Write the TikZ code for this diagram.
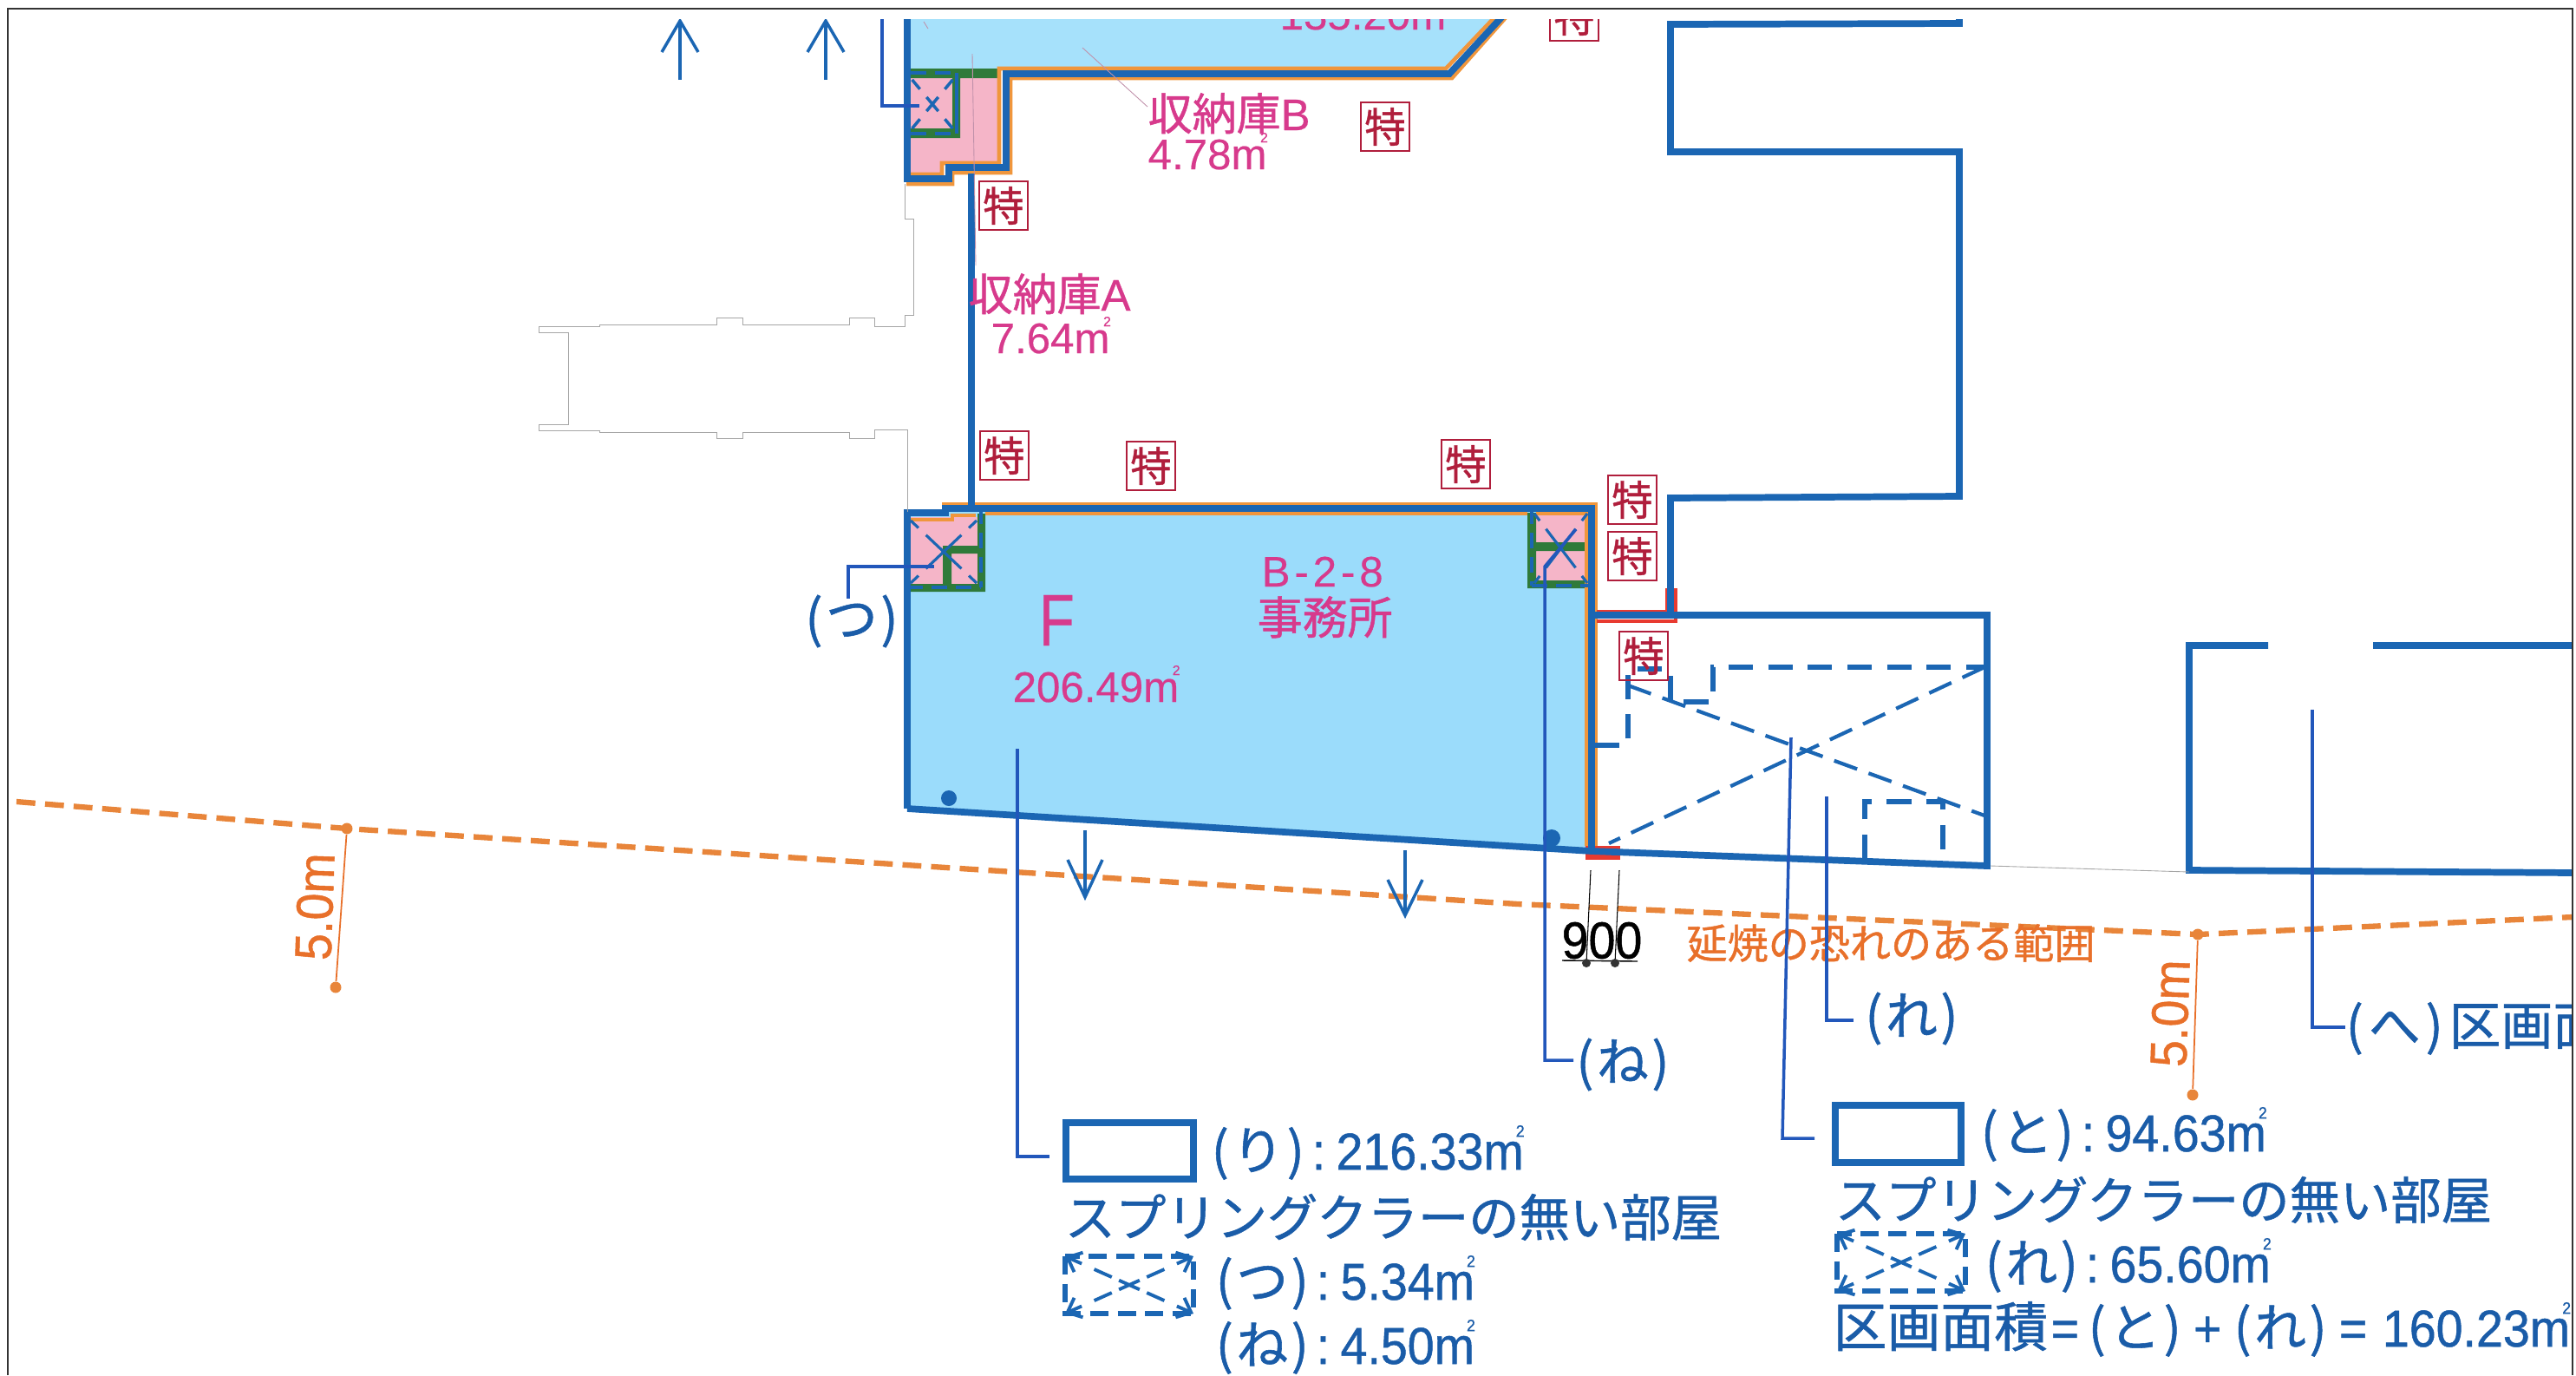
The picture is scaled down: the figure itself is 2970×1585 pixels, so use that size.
\documentclass[tikz,border=0pt]{standalone}
\usepackage{fontspec}
\setmainfont[FakeBold=0.4]{Liberation Sans}
\newfontfamily\narrowfont[FakeStretch=0.93,FakeBold=0.8]{Liberation Sans}
\newfontfamily\jpfont[FakeBold=0.9]{Noto Sans CJK JP}
\usetikzlibrary{arrows.meta}
\definecolor{wallblue}{HTML}{1B66B3}
\definecolor{textblue}{HTML}{1A5CA8}
\definecolor{leaderblue}{HTML}{2257BB}
\definecolor{roomfill}{HTML}{9BDCFB}
\definecolor{upperfill}{HTML}{A6E1FB}
\definecolor{shaftpink}{HTML}{F5B5C8}
\definecolor{shaftgreen}{HTML}{2F7A3A}
\definecolor{edgeorange}{HTML}{F0963C}
\definecolor{limitorange}{HTML}{E8853A}
\definecolor{labelorange}{HTML}{E8702A}
\definecolor{roommagenta}{HTML}{D73A8C}
\definecolor{tokured}{HTML}{B01E3C}
\definecolor{firered}{HTML}{E83A30}
\newcommand{\jp}[1]{{\jpfont #1}}
\newcommand{\kana}[1]{{\jpfont (\kern0.06em #1\kern0.06em )}}
\newcommand{\areasep}{\kern2.5pt:\kern3.5pt}
\newcommand{\sqm}{m\kern-0.15em\raisebox{0.63em}{\scalebox{0.32}{2}}}
\newcommand{\xmark}[5]{%
  \draw[#1] ({(#2+#4)/2},{(#3+#5)/2}) -- (#2,#3);
  \draw[#1] ({(#2+#4)/2},{(#3+#5)/2}) -- (#4,#3);
  \draw[#1] ({(#2+#4)/2},{(#3+#5)/2}) -- (#2,#5);
  \draw[#1] ({(#2+#4)/2},{(#3+#5)/2}) -- (#4,#5);}
\tikzset{
  wall/.style={wallblue,line width=2.2pt,line join=miter},
  edgeline/.style={edgeorange,line width=1.3pt},
  leader/.style={leaderblue,line width=1pt},
  ghostline/.style={black!35,line width=0.25pt},
  faintline/.style={roommagenta!60!black!50,line width=0.25pt},
  firestop/.style={firered,line width=1.3pt},
  flowarrow/.style={wallblue,line width=1pt},
  keydash/.style={wallblue,line width=1.6pt,dash pattern=on 6pt off 3pt},
  keycross/.style={wallblue,line width=1.1pt,-{Straight Barb[length=4pt,width=7pt]},dash pattern=on 3.7pt off 2.6pt on 6.3pt off 4.5pt on 8pt off 30pt},
  shaftcross/.style={wallblue,line width=0.9pt,dash pattern=on 8pt off 3.4pt on 4pt off 30pt},
  smallcross/.style={wallblue,line width=1pt,dash pattern=on 3pt off 3.4pt on 4pt off 30pt},
  shaftdash/.style={wallblue,line width=1.4pt,dash pattern=on 5pt off 3pt},
  zonedash/.style={wallblue,line width=1.6pt,dash pattern=on 8pt off 5pt},
  zonecross/.style={wallblue,line width=1.2pt,dash pattern=on 8pt off 4pt},
  tokubox/.style={draw=tokured,line width=0.6pt,text=tokured,
    font=\fontsize{13.5}{14}\selectfont\jpfont,minimum width=5.6mm,minimum height=5.6mm,inner sep=0pt},
  roomtext/.style={text=roommagenta,inner sep=0pt,anchor=base west,font=\fontsize{14}{16}\selectfont},
  legendtext/.style={text=textblue,inner sep=0pt,anchor=base west,font=\fontsize{17}{20}\selectfont\narrowfont},
  widthtext/.style={text=textblue,inner sep=0pt,anchor=base west,font=\fontsize{16.6}{20}\selectfont\jpfont},
  limittext/.style={text=labelorange,inner sep=0pt,font=\fontsize{17}{20}\selectfont\narrowfont},
  limitdot/.style={circle,fill=limitorange,inner sep=0pt,minimum size=1.3mm},
}
\begin{document}
\begin{tikzpicture}[x=0.1mm,y=-0.1mm]
  \useasboundingbox (0,0) rectangle (2970,1585);
  \begin{scope}
    \clip (9,22) rectangle (2966,1585);
    % room fills
    \fill[upperfill] (1050,22) -- (1050,80) -- (1667,80) -- (1724,22) -- cycle;
    \fill[roomfill] (1046,590) -- (1835,586) -- (1835,982) -- (1046,932) -- cycle;
    \fill[shaftpink] (1050,88) -- (1152,88) -- (1152,188) -- (1087,188) -- (1087,203) -- (1050,203) -- cycle;
    \fill[shaftpink] (1050,596) -- (1127,596) -- (1127,675) -- (1050,675) -- cycle;
    \fill[shaftpink] (1768,591) -- (1830,591) -- (1830,672) -- (1768,672) -- cycle;
    % green walls
    \fill[shaftgreen] (1050,79) -- (1152,79) -- (1152,90) -- (1107,90) -- (1107,159) -- (1050,159) -- (1050,148) -- (1098,148) -- (1098,90) -- (1050,90) -- cycle;
    \fill[shaftgreen] (1127,592) -- (1136,592) -- (1136,682) -- (1048,682) -- (1048,673) -- (1087,673) -- (1087,629) -- (1127,629) -- (1127,638) -- (1097,638) -- (1097,673) -- (1127,673) -- cycle;
    \fill[shaftgreen] (1761,591) -- (1771,591) -- (1771,625) -- (1829,625) -- (1829,635) -- (1771,635) -- (1771,669) -- (1830,669) -- (1830,678) -- (1761,678) -- cycle;
    % orange edges
    \draw[edgeline] (1050,201) -- (1086,201) -- (1086,188) -- (1152,188) -- (1152,79) -- (1667,79) -- (1725,18);
    \draw[edgeline] (1045,212) -- (1098,212) -- (1098,199) -- (1165,199) -- (1165,90) -- (1674,90) -- (1738,18);
    \draw[edgeline] (1044,589) -- (1088,589) -- (1088,581) -- (1840,581) -- (1840,978);
    \draw[edgeline] (1050,599) -- (1098,599) -- (1098,594) -- (1125,594);
    \draw[edgeline] (1136,592) -- (1761,592);
    \draw[edgeline] (1771,592) -- (1829,592) -- (1829,975);
    % red fire stops
    \fill[firered] (1828,975) rectangle (1868,991);
    \draw[firestop] (1841,705) -- (1922,705) -- (1922,678);
    \draw[firestop] (1841,716) -- (1932,716) -- (1932,678);
    % walls
    \draw[wall] (1046,22) -- (1046,206) -- (1094,206) -- (1094,193) -- (1160,193) -- (1160,85) -- (1671,85) -- (1733,18);
    \draw[wall] (1120,200) -- (1120,584);
    \draw[wall] (1046,932) -- (1046,591) -- (1090,591) -- (1090,586) -- (1835,586) -- (1835,982);
    \draw[wall] (1046,932) -- (1835,981) -- (2291,998) -- (2291,709) -- (1835,709);
    \draw[wall] (2259,18) -- (2259,27) -- (1926,28) -- (1926,175) -- (2259,175) -- (2259,572) -- (1926,574) -- (1926,709);
    \draw[wall] (2615,744) -- (2524,744) -- (2524,1003) -- (2970,1006);
    \draw[wall] (2736,744) -- (2970,744);
    % shaft outlines
    \draw[shaftdash] (1050,84) -- (1103,84);
    \draw[wallblue,line width=1.4pt] (1103,84) -- (1103,154);
    \draw[shaftdash] (1050,154) -- (1103,154);
    \draw[shaftdash] (1131,586) -- (1131,677);
    \draw[shaftdash] (1046,677) -- (1131,677);
    \draw[shaftdash] (1766,586) -- (1766,675);
    \draw[shaftdash] (1766,675) -- (1835,675);
    \xmark{smallcross}{1050}{90}{1100}{150}
    \xmark{shaftcross}{1050}{600}{1126}{672}
    \xmark{shaftcross}{1769}{592}{1830}{672}
    % dashed zone
    \draw[zonedash] (1839,859) -- (1877,859) -- (1877,771) -- (1926,771) -- (1926,809) -- (1975,809) -- (1975,769) -- (2288,769);
    \draw[zonecross] (2288,769) -- (1855,972);
    \draw[zonecross] (1877,790) -- (2288,940);
    \draw[zonedash] (2150,990) -- (2150,924) -- (2240,924) -- (2240,992);
    % outlines of the neighbouring building
    \draw[ghostline] (1046,590) -- (1046,495) -- (1008,495) -- (1008,505) -- (979,505) -- (979,498) -- (856,498) -- (856,505) -- (826,505) -- (826,498) -- (691,498) -- (691,496) -- (621,496) -- (621,489) -- (655,489) -- (655,383) -- (621,383) -- (621,376) -- (691,376) -- (691,374) -- (826,374) -- (826,366) -- (856,366) -- (856,374) -- (979,374) -- (979,366) -- (1008,366) -- (1008,376) -- (1043,376) -- (1043,363) -- (1053,363) -- (1053,252) -- (1043,252) -- (1043,212);
    \draw[ghostline] (2295,998) -- (2524,1005);
    \draw[faintline] (1121,62) -- (1125,306);
    \draw[faintline] (1248,55) -- (1323,123);
    \draw[faintline] (1065,25) -- (1070,33);
    % sprinkler heads
    \fill[wallblue] (1094,920) circle (9);
    \fill[wallblue] (1789,966) circle (10);
    % boxes
    \node[tokubox] (toku1) at (1815,19) {特};
    \node[tokubox] (toku2) at (1597,146) {特};
    \node[tokubox] (toku3) at (1157,237) {特};
    \node[tokubox] (toku4) at (1158,525) {特};
    \node[tokubox] (toku5) at (1327,537) {特};
    \node[tokubox] (toku6) at (1690,535) {特};
    \node[tokubox] (toku7) at (1882,576) {特};
    \node[tokubox] (toku8) at (1882,641) {特};
    \node[tokubox] (toku9) at (1895,756) {特};
    % room labels
    \node[roomtext] (upperArea) at (1475,34) {135.20\sqm};
    \node[roomtext] (storeB) at (1323,150) {\fontsize{14.5}{16}\selectfont\jp{収納庫}B};
    \node[roomtext] (storeBarea) at (1323,195) {4.78\sqm};
    \node[roomtext] (storeA) at (1116,358) {\fontsize{14.5}{16}\selectfont\jp{収納庫}A};
    \node[roomtext] (storeAarea) at (1142,407) {7.64\sqm};
    \node[roomtext,font=\fontsize{24}{26}\selectfont] (roomF) at (1197,744) {\scalebox{0.8}[1]{F}};
    \node[roomtext] (roomNo) at (1454,676) {B\kern.1em-\kern.1em 2\kern.1em-\kern.1em 8};
    \node[roomtext,font=\fontsize{14.8}{16}\selectfont\jpfont] (roomUse) at (1449,731) {事務所};
    \node[roomtext] (roomArea) at (1167,809) {206.49\sqm};
    % fire spread limit
    \draw[limitorange,line width=1.8pt,dash pattern=on 6.2pt off 3.2pt] (19,924) -- (400,955) -- (1091,1000) -- (1750,1042) -- (2534,1077) -- (2966,1057);
    \node[limitdot] (limitA) at (400,955) {};
    \node[limitdot] (limitAend) at (387,1138) {};
    \node[limitdot] (limitB) at (2534,1077) {};
    \node[limitdot] (limitBend) at (2528,1262) {};
    \draw[labelorange,line width=0.5pt] (limitA) -- (limitAend);
    \draw[labelorange,line width=0.5pt] (limitB) -- (limitBend);
    \node[limittext,rotate=88] (distA) at (363,1045) {5.0m};
    \node[limittext,rotate=88] (distB) at (2502,1168) {5.0m};
    \node[text=labelorange,inner sep=0pt,font=\fontsize{13.4}{15}\selectfont\jpfont] (limitName) at (2180,1087) {延焼の恐れのある範囲};
    % arrows
    \draw[flowarrow] (784,92) -- (784,24);
    \draw[flowarrow] (763,60) -- (784,24) -- (805,60);
    \draw[flowarrow] (952,92) -- (952,24);
    \draw[flowarrow] (931,60) -- (952,24) -- (973,60);
    \draw[flowarrow] (1251,957) -- (1251,1034);
    \draw[flowarrow] (1231,991) -- (1251,1034) -- (1271,991);
    \draw[flowarrow] (1620,980) -- (1620,1055);
    \draw[flowarrow] (1600,1014) -- (1620,1055) -- (1640,1014);
    % width 900
    \coordinate (dimA) at (1834,1003);
    \coordinate (dimB) at (1867,1003);
    \coordinate (dimAend) at (1829,1110);
    \coordinate (dimBend) at (1862,1110);
    \draw[black,line width=0.3pt] (dimA) -- (dimAend);
    \draw[black,line width=0.3pt] (dimB) -- (dimBend);
    \draw[black,line width=0.4pt] (1801,1107) -- (1888,1108);
    \fill[black!80] (dimAend) circle (5);
    \fill[black!80] (dimBend) circle (5);
    \node[text=black,inner sep=0pt,font=\fontsize{17}{20}\selectfont\narrowfont] (dimText) at (1847,1084) {900};
    % leaders
    \coordinate (leadTu) at (1077,653);
    \coordinate (leadTuEnd) at (978,690);
    \draw[leader] (leadTu) -| (leadTuEnd);
    \coordinate (leadUp) at (1017,22);
    \coordinate (leadUpEnd) at (1060,122);
    \draw[leader] (leadUp) |- (leadUpEnd);
    \coordinate (leadNe) at (1817,610);
    \coordinate (leadNeBend) at (1781,653);
    \coordinate (leadNeEnd) at (1814,1222);
    \draw[leader] (leadNe) -- (leadNeBend) |- (leadNeEnd);
    \coordinate (leadRi) at (1173,863);
    \coordinate (leadRiEnd) at (1210,1333);
    \draw[leader] (leadRi) |- (leadRiEnd);
    \coordinate (leadTo) at (2065,850);
    \coordinate (leadToBend) at (2055,1312);
    \coordinate (leadToEnd) at (2092,1312);
    \draw[leader] (leadTo) -- (leadToBend) -- (leadToEnd);
    \coordinate (leadRe) at (2106,918);
    \coordinate (leadReEnd) at (2137,1176);
    \draw[leader] (leadRe) |- (leadReEnd);
    \coordinate (leadHe) at (2666,818);
    \coordinate (leadHeEnd) at (2704,1184);
    \draw[leader] (leadHe) |- (leadHeEnd);
    % short labels
    \node[legendtext,anchor=center] (labelTu) at (982,716) {\kana{つ}};
    \node[legendtext,anchor=center] (labelNe) at (1871,1227) {\kana{ね}};
    \node[legendtext,anchor=center] (labelRe) at (2204,1174) {\kana{れ}};
    \node[legendtext] (labelHe) at (2704,1204) {{\jpfont (\kern.1em へ\kern.1em )\kern2pt 区画面}};
    % left legend
    \draw[wall] (1229,1294) rectangle (1376,1359);
    \node[legendtext] (keyRi) at (1396,1348) {\kana{り}\areasep 216.33\sqm};
    \node[widthtext] (noSprA) at (1227,1425) {スプリングクラーの無い部屋};
    \draw[keydash] (1228,1448) rectangle (1376,1514);
    \xmark{keycross}{1228}{1448}{1376}{1514}
    \node[legendtext] (keyTu) at (1401,1498) {\kana{つ}\areasep 5.34\sqm};
    \node[legendtext] (keyNe) at (1401,1572) {\kana{ね}\areasep 4.50\sqm};
    % right legend
    \draw[wall] (2116,1274) rectangle (2261,1340);
    \node[legendtext] (keyTo) at (2283,1327) {\kana{と}\areasep 94.63\sqm};
    \node[widthtext] (noSprB) at (2115,1405) {スプリングクラーの無い部屋};
    \draw[keydash] (2118,1422) rectangle (2266,1488);
    \xmark{keycross}{2118}{1422}{2266}{1488}
    \node[legendtext] (keyRe) at (2288,1478) {\kana{れ}\areasep 65.60\sqm};
    \node[legendtext] (keySum) at (2113,1552) {{\fontsize{17.6}{20}\selectfont\jpfont 区画面積}\kern1pt=\kern3pt\kana{と}\kern4pt+\kern4pt\kana{れ}\kern4pt=\kern5pt160.23\sqm};
  \end{scope}
  % sheet frame
  \draw[black!80,line width=0.8pt] (9,1585) -- (9,10) -- (2966,10) -- (2966,1585);
\end{tikzpicture}
\end{document}
